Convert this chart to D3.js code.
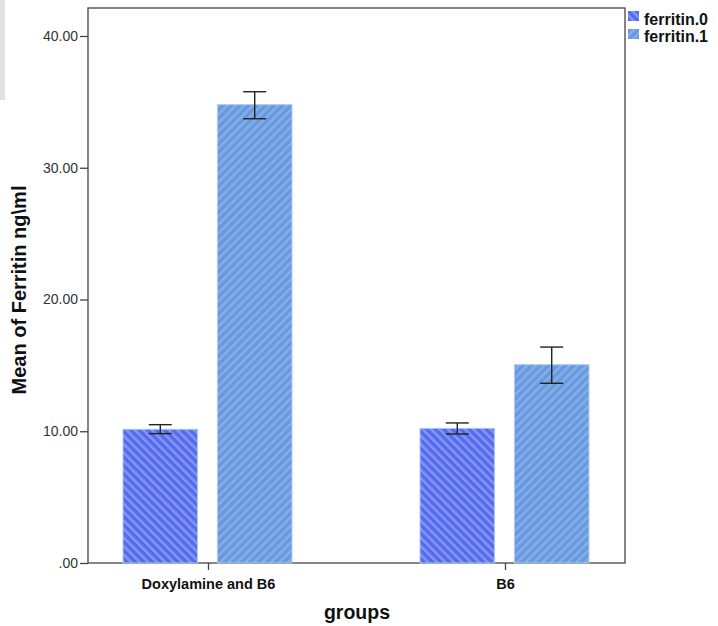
<!DOCTYPE html>
<html><head><meta charset="utf-8">
<script src="https://cdn.jsdelivr.net/npm/d3@7"></script>
<style>body{margin:0;background:#fff}svg{display:block}</style>
</head><body>
<script>
const categories = ["Doxylamine and B6", "B6"];
const series = ["ferritin.0", "ferritin.1"];
const means = [[10.15, 34.79], [10.22, 15.05]];
const errLow = [[9.82, 33.72], [9.79, 13.64]];
const errHigh = [[10.50, 35.77], [10.63, 16.39]];
const yTicks = [0, 10, 20, 30, 40];

const W = 718, H = 626;
const L = 88, R = 625, T = 8, B = 563;
const svg = d3.select("body").append("svg").attr("width", W).attr("height", H)
  .style("font-family", "Arial, 'Liberation Sans', sans-serif");

const defs = svg.append("defs");
function hatch(id, base, stripe, dir) {
  const p = defs.append("pattern").attr("id", id).attr("patternUnits", "userSpaceOnUse")
    .attr("width", 6).attr("height", 6)
    .attr("patternTransform", `rotate(${dir})`);
  p.append("rect").attr("width", 6).attr("height", 6).attr("fill", base);
  p.append("rect").attr("width", 2.6).attr("height", 6).attr("fill", stripe);
}
hatch("h0", "#5868ef", "#7f98f2", -45);
hatch("h1", "#6b95e6", "#80b2de", 45);
const fills = ["url(#h0)", "url(#h1)"];

svg.append("rect").attr("x", 0).attr("y", 0).attr("width", 5).attr("height", 100).attr("fill", "#e2e2e2");

const y = d3.scaleLinear().domain([0, 40]).range([B, 36]);
const x = d3.scalePoint().domain(categories).range([L, R]).padding(0.404);
const xs = d3.scaleBand().domain(series).range([-85, 84]).paddingInner(0.21);

// frame
svg.append("rect").attr("x", L).attr("y", T).attr("width", R - L).attr("height", B - T)
  .attr("fill", "none").attr("stroke", "#444").attr("stroke-width", 1.3);

const g = svg.append("g");
categories.forEach((c, i) => {
  series.forEach((s, j) => {
    const bx = x(c) + xs(s);
    g.append("rect").attr("x", bx).attr("y", y(means[i][j]))
      .attr("width", xs.bandwidth()).attr("height", y(0) - y(means[i][j]))
      .attr("fill", fills[j]).attr("stroke", "#a9cdf2").attr("stroke-width", 1);
    const cx = bx + xs.bandwidth() / 2;
    const eg = g.append("g").attr("stroke", "#222").attr("stroke-width", 1.4);
    eg.append("line").attr("x1", cx).attr("x2", cx).attr("y1", y(errHigh[i][j])).attr("y2", y(errLow[i][j]));
    eg.append("line").attr("x1", cx - 11.5).attr("x2", cx + 11.5).attr("y1", y(errHigh[i][j])).attr("y2", y(errHigh[i][j]));
    eg.append("line").attr("x1", cx - 11.5).attr("x2", cx + 11.5).attr("y1", y(errLow[i][j])).attr("y2", y(errLow[i][j]));
  });
});

// y axis
const ya = svg.append("g").attr("transform", `translate(${L},0)`)
  .call(d3.axisLeft(y).tickValues(yTicks).tickSize(8).tickPadding(2)
    .tickFormat(d => d === 0 ? ".00" : d.toFixed(2)));
ya.select(".domain").remove();
ya.selectAll("line").attr("stroke", "#444").attr("stroke-width", 1.3);
ya.selectAll("text").attr("font-size", 14).attr("fill", "#333");

// x axis
const xa = svg.append("g").attr("transform", `translate(0,${B})`)
  .call(d3.axisBottom(x).tickSize(7).tickPadding(9));
xa.select(".domain").remove();
xa.selectAll("line").attr("stroke", "#444").attr("stroke-width", 1.3);
xa.selectAll("text").attr("font-size", 14.5).attr("font-weight", "bold").attr("fill", "#111");

svg.append("text").attr("x", 357).attr("y", 619).attr("text-anchor", "middle")
  .attr("font-size", 19.5).attr("font-weight", "bold").attr("fill", "#111").text("groups");
svg.append("text").attr("transform", "translate(26,290) rotate(-90)").attr("text-anchor", "middle")
  .attr("font-size", 20).attr("font-weight", "bold").attr("fill", "#111").text("Mean of Ferritin ng\\ml");

// legend
series.forEach((s, j) => {
  svg.append("rect").attr("x", 628).attr("y", 11 + j * 18).attr("width", 11).attr("height", 10)
    .attr("fill", fills[j]);
  svg.append("text").attr("x", 644).attr("y", 25 + j * 17).attr("font-size", 16)
    .attr("font-weight", "bold").attr("fill", "#111").text(s);
});
</script>
</body></html>
